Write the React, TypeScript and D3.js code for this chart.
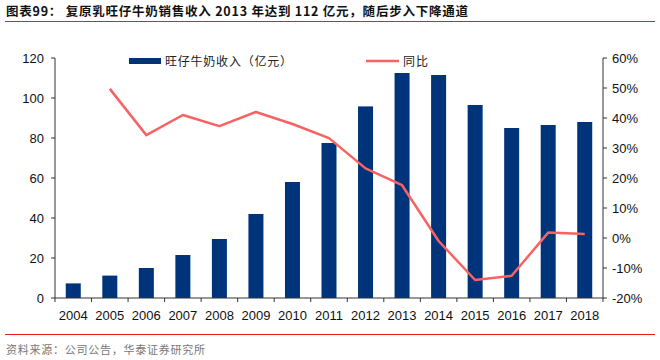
import React from "react";
import * as d3 from "d3";

const years = ["2004","2005","2006","2007","2008","2009","2010","2011","2012","2013","2014","2015","2016","2017","2018"];
const revenue = [7.3, 11.2, 15, 21.5, 29.5, 42, 58, 77.5, 95.8, 112.5, 111.5, 96.5, 85, 86.5, 88];
const yoy: (number | null)[] = [null, 49.7, 34.3, 41, 37.3, 42, 38, 33.3, 23.2, 17.6, -1, -14, -12.6, 1.8, 1.3];
const leftTicks = [0, 20, 40, 60, 80, 100, 120];
const rightTicks = [-20, -10, 0, 10, 20, 30, 40, 50, 60];

const W = 660, H = 360;
const M = { left: 55, right: 603, top: 58, bottom: 298 };
const BAR = "#00347A";
const LINE = "#F96262";
const FONT = "'Liberation Sans', Arial, sans-serif";
const CJK = "'Noto Sans CJK SC', sans-serif";

export default function App() {
  const xb = d3.scaleBand<string>().domain(years).range([M.left, M.right]);
  const yL = d3.scaleLinear().domain([0, 120]).range([M.bottom, M.top]);
  const yR = d3.scaleLinear().domain([-20, 60]).range([M.bottom, M.top]);
  const line = d3.line<number | null>()
    .defined((d) => d !== null)
    .x((_, i) => (xb(years[i]) as number) + xb.bandwidth() / 2)
    .y((d) => yR(d as number));
  const bw = 15;
  return (
    <svg width={W} height={H} style={{ position: "absolute", left: 0, top: 0, background: "#fff" }}>
      <text x={6} y={16} fontFamily={CJK} fontWeight="bold" fontSize={12.5} fill="#111" textLength={462} lengthAdjust="spacing">
        图表99：  复原乳旺仔牛奶销售收入 2013 年达到 112 亿元，随后步入下降通道
      </text>
      <line x1={5} x2={655} y1={21.5} y2={21.5} stroke="#D7281E" strokeWidth={1} />
      {revenue.map((v, i) => {
        const cx = (xb(years[i]) as number) + xb.bandwidth() / 2;
        return <rect key={i} x={cx - bw / 2} y={yL(v)} width={bw} height={M.bottom - yL(v)} fill={BAR} />;
      })}
      <path d={line(yoy) || ""} fill="none" stroke={LINE} strokeWidth={2.5} strokeLinejoin="round" />
      {/* left axis */}
      <line x1={M.left} x2={M.left} y1={M.top} y2={M.bottom} stroke="#333" />
      {leftTicks.map((t) => (
        <g key={t}>
          <line x1={M.left - 4} x2={M.left} y1={yL(t)} y2={yL(t)} stroke="#333" />
          <text x={44} y={yL(t) + 4.5} textAnchor="end" fontFamily={FONT} fontSize={13} fill="#111">{t}</text>
        </g>
      ))}
      {/* right axis */}
      <line x1={M.right} x2={M.right} y1={M.top} y2={M.bottom} stroke="#333" />
      {rightTicks.map((t) => (
        <g key={t}>
          <line x1={M.right} x2={M.right + 4} y1={yR(t)} y2={yR(t)} stroke="#333" />
          <text x={612} y={yR(t) + 4.5} textAnchor="start" fontFamily={FONT} fontSize={13} fill="#111">{t}%</text>
        </g>
      ))}
      {/* x axis */}
      <line x1={M.left} x2={M.right} y1={M.bottom} y2={M.bottom} stroke="#333" />
      {years.map((y) => (
        <g key={y}>
          <line x1={(xb(y) as number)} x2={(xb(y) as number)} y1={M.bottom} y2={M.bottom + 4} stroke="#333" />
          <text x={(xb(y) as number) + xb.bandwidth() / 2} y={320} textAnchor="middle" fontFamily={FONT} fontSize={13} fill="#111">{y}</text>
        </g>
      ))}
      <line x1={M.right} x2={M.right} y1={M.bottom} y2={M.bottom + 4} stroke="#333" />
      {/* legend */}
      <rect x={129} y={58} width={32} height={6} fill={BAR} />
      <text x={165} y={66} fontFamily={CJK} fontSize={12} fill="#222" textLength={127} lengthAdjust="spacing">旺仔牛奶收入（亿元）</text>
      <line x1={366} x2={399} y1={61} y2={61} stroke={LINE} strokeWidth={2.5} />
      <text x={403} y={66} fontFamily={CJK} fontSize={12} fill="#222" textLength={25} lengthAdjust="spacing">同比</text>
      <line x1={5} x2={655} y1={334.5} y2={334.5} stroke="#E0201A" strokeWidth={1} />
      <text x={6} y={354} fontFamily={CJK} fontSize={11} fill="#777" textLength={199} lengthAdjust="spacing">资料来源：公司公告，华泰证券研究所</text>
    </svg>
  );
}
